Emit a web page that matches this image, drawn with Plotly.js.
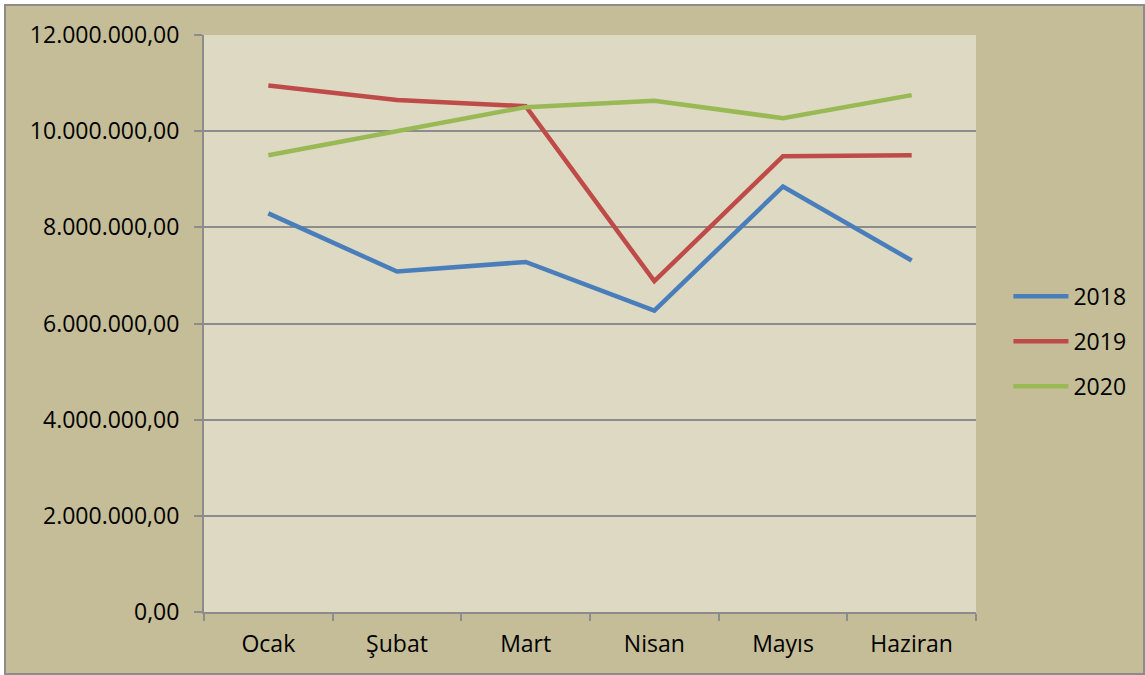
<!DOCTYPE html>
<html>
<head>
<meta charset="utf-8">
<script src="https://cdn.plot.ly/plotly-3.0.1.min.js"></script>
<style>
  html, body { margin: 0; padding: 0; background: #ffffff; }
  #wrap { position: absolute; left: 4px; top: 4px; width: 1137px; height: 667px; border: 2px solid #8c8c8c; background: #C4BD97; }
  #chart { position: absolute; left: 0; top: 0; width: 1137px; height: 667px; }
</style>
</head>
<body>
<div id="wrap"><div id="chart"></div></div>
<script>
const months = ["Ocak", "Şubat", "Mart", "Nisan", "Mayıs", "Haziran"];
const v2018 = [8290000, 7080000, 7280000, 6270000, 8850000, 7310000];
const v2019 = [10950000, 10650000, 10520000, 6880000, 9480000, 9500000];
const v2020 = [9500000, 10000000, 10500000, 10630000, 10270000, 10750000];
const seriesNames = ["2018", "2019", "2020"];
const seriesColors = ["#4A7EBB", "#BE4B48", "#98B954"];
const seriesValues = [v2018, v2019, v2020];

const traces = seriesValues.map((vals, i) => ({
  type: "scatter",
  mode: "lines",
  x: months,
  y: vals,
  name: seriesNames[i],
  legendgroup: seriesNames[i],
  line: { color: seriesColors[i], width: 4.5 },
  hoverinfo: "skip"
}));

const font = { family: "Open Sans, sans-serif", size: 23, color: "#000000" };

const layout = {
  width: 1137,
  height: 667,
  paper_bgcolor: "#C4BD97",
  plot_bgcolor: "#DDD9C3",
  margin: { l: 198, r: 162, t: 29, b: 61 },
  font: font,
  separators: ",.",
  showlegend: true,
  legend: {
    x: 1.042, xanchor: "left",
    y: 0.469, yanchor: "middle",
    bgcolor: "rgba(0,0,0,0)",
    font: font,
    traceorder: "grouped",
    tracegroupgap: 12,
    itemwidth: 55
  },
  xaxis: {
    type: "category",
    tickson: "boundaries",
    ticks: "outside",
    ticklen: 7,
    tickwidth: 2,
    tickcolor: "#8c8c8c",
    showline: true,
    linecolor: "#8c8c8c",
    linewidth: 2,
    showgrid: false,
    tickfont: font,
    ticklabelstandoff: 10,
    range: [-0.5, 5.5],
    fixedrange: true
  },
  yaxis: {
    range: [0, 12000000],
    dtick: 2000000,
    tickformat: ",.2f",
    ticks: "outside",
    ticklen: 8,
    tickwidth: 2,
    tickcolor: "#8c8c8c",
    showline: true,
    linecolor: "#8c8c8c",
    linewidth: 2,
    showgrid: true,
    gridcolor: "#8c8c8c",
    gridwidth: 2,
    zeroline: false,
    tickfont: font,
    ticklabelstandoff: 10,
    fixedrange: true
  }
};

Plotly.newPlot("chart", traces, layout, { displayModeBar: false, staticPlot: true });
</script>
</body>
</html>
